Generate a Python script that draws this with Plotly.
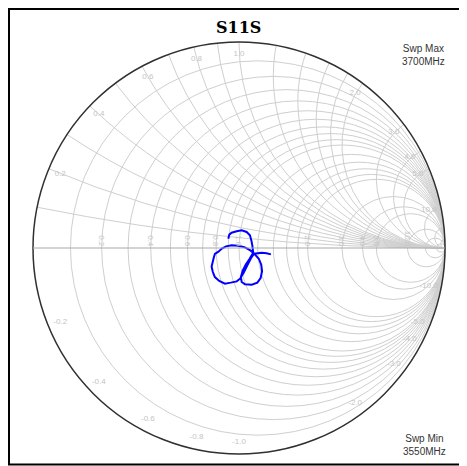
import numpy as np
import plotly.graph_objects as go

# S11 (reflection coefficient), sweep 3550 -> 3700 MHz
s11_re = [-0.052, -0.047, -0.036, -0.011, 0.013, 0.037, 0.053, 0.060, 0.065, 0.069,
          0.050, 0.033, 0.018, 0.009, 0.013, 0.029, 0.062, 0.089, 0.105, 0.112,
          0.108, 0.096, 0.078, 0.057, 0.029, -0.003, -0.036, -0.063, -0.083, -0.100,
          -0.117, -0.122, -0.127, -0.133, -0.128, -0.124, -0.117, -0.096, -0.068, -0.040,
          -0.011, 0.005, 0.022, 0.040, 0.058, 0.073, 0.110, 0.134, 0.155]
s11_im = [0.045, 0.065, 0.074, 0.081, 0.086, 0.078, 0.062, 0.037, 0.010, -0.023,
          -0.055, -0.080, -0.110, -0.141, -0.165, -0.176, -0.178, -0.168, -0.146, -0.113,
          -0.081, -0.052, -0.032, -0.013, 0.003, 0.011, 0.013, 0.008, -0.003, -0.018,
          -0.029, -0.045, -0.066, -0.090, -0.113, -0.125, -0.141, -0.160, -0.173, -0.168,
          -0.162, -0.149, -0.122, -0.085, -0.050, -0.028, -0.023, -0.026, -0.031]

# grid circles / arcs
r_grid = [0.1, 0.2, 0.3, 0.4, 0.5, 0.6, 0.7, 0.8, 0.9, 1.0,
          1.2, 1.4, 1.6, 1.8, 2.0, 3.0, 4.0, 5.0, 10.0, 20.0, 50.0]
x_grid = [0.1, 0.2, 0.3, 0.4, 0.5, 0.6, 0.7, 0.8, 0.9, 1.0,
          1.2, 1.4, 1.6, 1.8, 2.0, 3.0, 4.0, 5.0, 10.0, 20.0, 50.0]

# labelled values
r_labels = [0.2, 0.4, 0.6, 0.8, 1.0, 2.0, 3.0, 4.0, 5.0, 10.0]
x_labels = [0.2, 0.4, 0.6, 0.8, 1.0, 2.0, 3.0, 4.0, 5.0, 10.0]

g = np.array(s11_re) + 1j * np.array(s11_im)
z = (1 + g) / (1 - g)

# reactance labels sit just inside the rim
xl = np.array(x_labels + [-v for v in x_labels])
g_rim = (1j * xl - 1) / (1j * xl + 1) * 0.94
z_lab = (1 + g_rim) / (1 - g_rim)
x_text = ['%.1f' % v for v in xl]

W, H = 467, 466
OFF = 8  # page body margin


def px(p):
    return (p - OFF) / W


def py(p):
    return 1 - (p - OFF) / H


grid_col = '#cfcfcf'
label_font = dict(family='Liberation Sans', size=8, color='#c4c4c4')
cx, cy, rad = 239, 248, 206
dom_x = [px(cx - rad), px(cx + rad)]
dom_y = [py(cy + rad), py(cy - rad)]

fig = go.Figure()

fig.add_trace(go.Scattersmith(
    real=z_lab.real, imag=z_lab.imag, text=x_text,
    mode='text', textfont=label_font,
    hoverinfo='skip', subplot='smith2', showlegend=False,
))

fig.add_trace(go.Scattersmith(
    real=z.real, imag=z.imag, mode='lines',
    line=dict(color='#0000ff', width=2),
    subplot='smith', showlegend=False,
))

# frame: left, top and bottom edges (right edge runs off the picture)
xl0, xr0, yt0, yb0 = px(9), 1.1, py(9), py(464.5)
frame = f"M {xr0},{yt0} L {xl0},{yt0} L {xl0},{yb0} L {xr0},{yb0}"

fig.update_layout(
    smith=dict(
        domain=dict(x=dom_x, y=dom_y),
        bgcolor='white',
        realaxis=dict(tickvals=r_grid, showticklabels=False, gridcolor=grid_col,
                      gridwidth=1, linecolor='#a8a8a8', linewidth=1, ticks=''),
        imaginaryaxis=dict(tickvals=x_grid, showticklabels=False, gridcolor=grid_col,
                           gridwidth=1, linecolor='#303030', linewidth=1.5, ticks=''),
    ),
    smith2=dict(
        domain=dict(x=dom_x, y=dom_y),
        bgcolor='rgba(0,0,0,0)',
        realaxis=dict(tickvals=r_labels, tickformat='.1f', showgrid=False, showline=False,
                      ticks='', side='top', tickangle=90, tickfont=label_font),
        imaginaryaxis=dict(tickvals=[], showticklabels=False, showgrid=False,
                           showline=False, ticks=''),
    ),
    width=W, height=H,
    margin=dict(l=0, r=0, t=0, b=0),
    paper_bgcolor='white',
    shapes=[dict(type='path', xref='paper', yref='paper', path=frame,
                 line=dict(color='black', width=2))],
    annotations=[
        dict(text='<b>S11S</b>', x=px(238), y=py(27), xanchor='center', yanchor='middle',
             xref='paper', yref='paper', showarrow=False,
             font=dict(family='DejaVu Serif', size=16, color='black')),
        dict(text='Swp Max<br>3700MHz', x=px(423), y=py(55), xanchor='center',
             yanchor='middle', xref='paper', yref='paper', showarrow=False, align='center',
             font=dict(family='Liberation Sans', size=10, color='#333333')),
        dict(text='Swp Min<br>3550MHz', x=px(424), y=py(445), xanchor='center',
             yanchor='middle', xref='paper', yref='paper', showarrow=False, align='center',
             font=dict(family='Liberation Sans', size=10, color='#333333')),
    ],
)

fig.write_html("out.html")
